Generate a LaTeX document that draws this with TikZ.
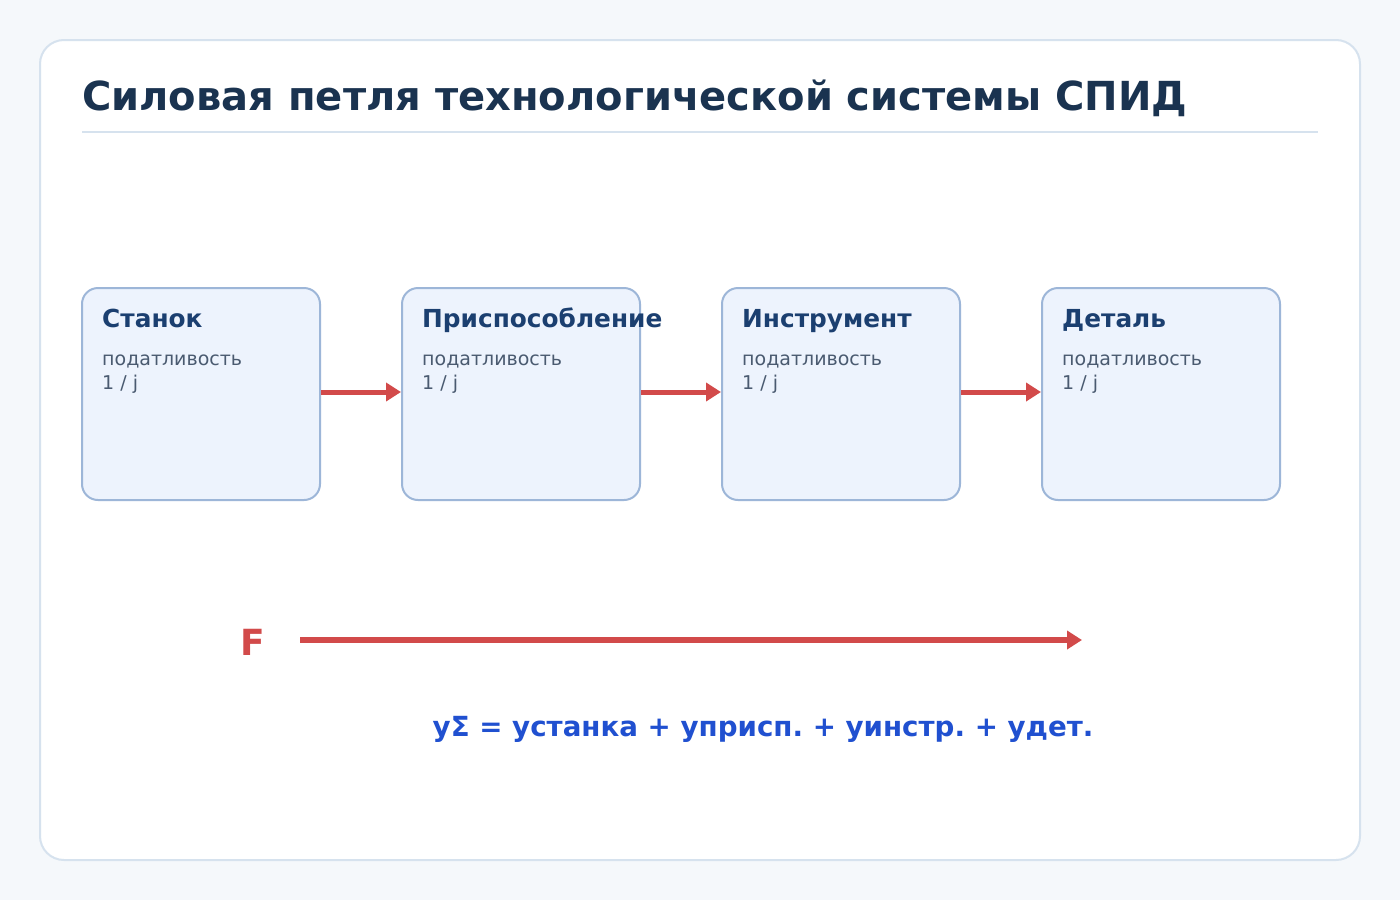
\documentclass[tikz,border=0pt]{standalone}
\usepackage{fontspec}
\setmainfont{DejaVu Sans}
\usetikzlibrary{arrows.meta}
\frenchspacing
\definecolor{bg}{HTML}{F5F8FB}
\definecolor{cardline}{HTML}{D6E2EE}
\definecolor{titlec}{HTML}{1A3350}
\definecolor{boxfill}{HTML}{EDF3FD}
\definecolor{boxline}{HTML}{9DB6D8}
\definecolor{boxtitle}{HTML}{1B3F70}
\definecolor{subc}{HTML}{4A5A70}
\definecolor{redc}{HTML}{D24A4A}
\definecolor{bluec}{HTML}{2050D0}
\begin{document}
\begin{tikzpicture}[x=1pt,y=-1pt,
  blk/.style={draw=boxline,line width=2pt,fill=boxfill,rounded corners=16pt,minimum width=238pt,minimum height=212pt,inner sep=0pt},
  btitle/.style={anchor=base west,inner sep=0pt,font=\bfseries\fontsize{24.8}{25}\selectfont,text=boxtitle},
  bsub/.style={anchor=base west,inner sep=0pt,font=\fontsize{19}{19}\selectfont,text=subc},
  arr/.style={draw=redc,line width=5pt,-{Triangle[length=15pt,width=18pt]}}]
\fill[bg] (0,0) rectangle (1400,900);
\useasboundingbox (0,0) rectangle (1400,900);
\draw[cardline,line width=2pt,fill=white,rounded corners=24pt] (40,40) rectangle (1360,860);
\node[anchor=base west,inner sep=0pt,font=\bfseries\fontsize{40}{40}\selectfont,text=titlec] (title) at (82,110) {Силовая петля технологической системы СПИД};
\draw[cardline,line width=2pt] (82,132) -- (1318,132);
\foreach \n/\x/\t in {a/81/Станок,b/401/Приспособление,c/721/Инструмент,d/1041/Деталь}{
  \node[blk,anchor=north west] (\n) at (\x,287) {};
  \node[btitle] (\n t) at (\x+21,327) {\t};
  \node[bsub] (\n s) at (\x+21,365) {податливость};
  \node[bsub] (\n j) at (\x+21,389) {1 / j};
}
\draw[arr] (a.east |- 0,392) -- (b.west |- 0,392);
\draw[arr] (b.east |- 0,392) -- (c.west |- 0,392);
\draw[arr] (c.east |- 0,392) -- (d.west |- 0,392);
\node[anchor=base west,inner sep=0pt,font=\bfseries\fontsize{36}{36}\selectfont,text=redc] (F) at (240,655) {F};
\coordinate (fs) at (300,640);
\coordinate (fe) at (1082,640);
\draw[arr,line width=6pt] (fs) -- (fe);
\node[anchor=base,inner sep=0pt,font=\bfseries\fontsize{27.7}{28}\selectfont,text=bluec] (eq) at (763,736) {yΣ = yстанка + yприсп. + yинстр. + yдет.};
\end{tikzpicture}
\end{document}
